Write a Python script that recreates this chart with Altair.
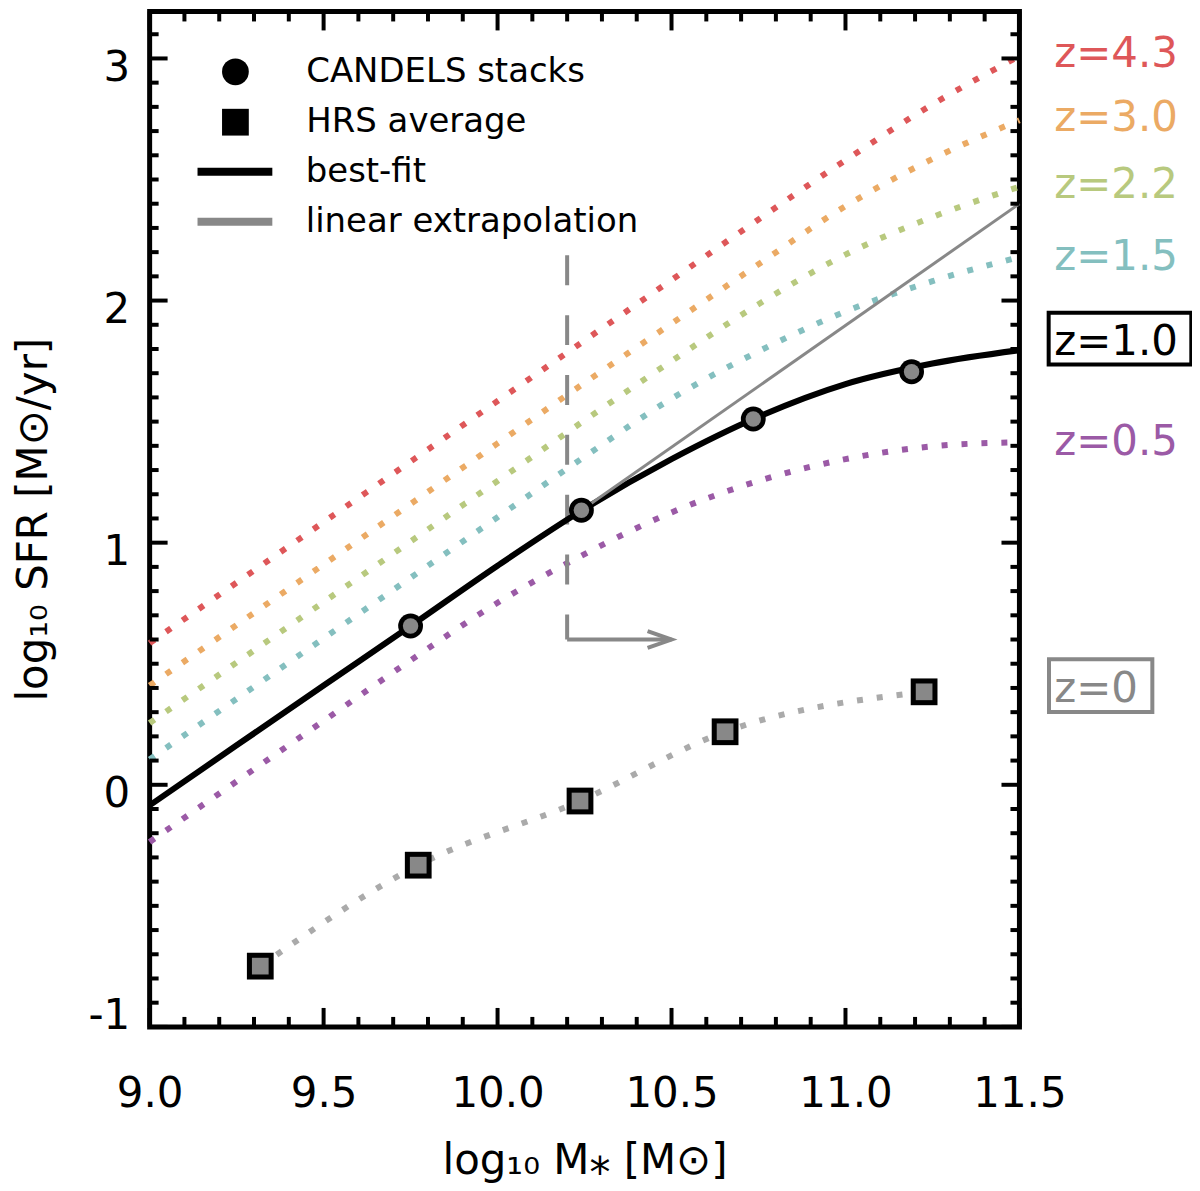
import altair as alt
import pandas as pd

MASS = [9.0, 9.25, 9.5, 9.75, 10.0, 10.25, 10.5, 10.75, 11.0, 11.25, 11.5]

# log10 SFR of the main sequence at each redshift (dotted curves)
SFR_Z43 = [0.585, 0.835, 1.085, 1.335, 1.585, 1.835, 2.085, 2.335, 2.58, 2.81, 3.01]
SFR_Z30 = [0.41, 0.66, 0.91, 1.16, 1.41, 1.66, 1.905, 2.15, 2.39, 2.585, 2.745]
SFR_Z22 = [0.255, 0.505, 0.755, 1.005, 1.255, 1.505, 1.75, 1.985, 2.19, 2.345, 2.47]
SFR_Z15 = [0.105, 0.355, 0.605, 0.855, 1.105, 1.355, 1.595, 1.79, 1.955, 2.08, 2.18]
SFR_Z05 = [-0.236, 0.014, 0.264, 0.514, 0.752, 0.953, 1.125, 1.255, 1.345, 1.398, 1.415]

# best fit at z=1
SFR_Z10 = [-0.085, 0.163, 0.41, 0.656, 0.905, 1.14, 1.345, 1.52, 1.655, 1.74, 1.795]

# CANDELS stacks (z=1) and HRS average (z=0)
CANDELS_MASS = [9.75, 10.241, 10.735, 11.19]
CANDELS_SFR = [0.656, 1.134, 1.511, 1.706]
HRS_MASS = [9.318, 9.772, 10.237, 10.654, 11.226]
HRS_SFR = [-0.749, -0.332, -0.067, 0.219, 0.384]

# linear extrapolation of the low-mass slope
EXTRAP_MASS = [10.241, 11.5]
EXTRAP_SFR = [1.134, 2.40]

# mass cut marker
CUT_MASS = 10.2
CUT_TOP = 2.187
CUT_BOTTOM = 0.60
ARROW_END = 10.5

# redshift labels on the right
Z_LABELS = ["z=4.3", "z=3.0", "z=2.2", "z=1.5", "z=1.0", "z=0.5", "z=0"]
Z_LABEL_SFR = [2.965, 2.699, 2.425, 2.128, 1.776, 1.364, 0.343]
LABEL_MASS = 11.6

X_MAJOR = [9.0, 9.5, 10.0, 10.5, 11.0, 11.5]
X_MINOR = [round(9.0 + 0.1 * i, 1) for i in range(1, 25) if i % 5]
Y_MAJOR = [-1, 0, 1, 2, 3]
Y_MINOR = [round(-1.0 + 0.1 * i, 1) for i in range(1, 42) if i % 10]

LINE_COLORS = {
    "z=4.3": "#de5759",
    "z=3.0": "#ebaa64",
    "z=2.2": "#b8c97e",
    "z=1.5": "#84bfbf",
    "z=0.5": "#9b5aa6",
    "z=0": "#aaaaaa",
}
TEXT_COLORS = {
    "z=4.3": "#de5759",
    "z=3.0": "#ebaa64",
    "z=2.2": "#b8c97e",
    "z=1.5": "#84bfbf",
    "z=1.0": "#000000",
    "z=0.5": "#9b5aa6",
    "z=0": "#888888",
}
GREY = "#888888"
FONT = "DejaVu Sans"

W, H = 872, 1018

X_SCALE = alt.Scale(domain=[9.0, 11.5], nice=False, zero=False)
Y_SCALE = alt.Scale(domain=[-1.0, 3.194], nice=False, zero=False)

X_AXIS = alt.Axis(
    values=X_MAJOR, format=".1f", ticks=False, tickSize=0, domain=False, grid=False,
    labelFontSize=42, labelPadding=47, labelBaseline="top", labelFlush=False,
    labelOverlap=False, labelColor="black",
    title="log₁₀ M⁎ [M⊙]", titleFontSize=42, titleFontWeight="normal",
    titleX=W / 2, titleY=147, titleBaseline="alphabetic", titleAlign="center",
    titleColor="black",
)
Y_AXIS = alt.Axis(
    values=Y_MAJOR, ticks=False, tickSize=0, domain=False, grid=False,
    labelExpr="datum.value < 0 ? '-' + format(abs(datum.value), 'd') : format(datum.value, 'd')",
    labelFontSize=42, labelPadding=20, labelBaseline="middle", labelFlush=False,
    labelOverlap=False, labelColor="black",
    labelOffset={"condition": {"test": "datum.value === -1", "value": -11}, "value": 9},
    title="log₁₀ SFR [M⊙/yr]", titleFontSize=42, titleFontWeight="normal",
    titleX=-103, titleY=H / 2, titleAngle=270, titleBaseline="alphabetic",
    titleAlign="center", titleColor="black",
)


def xq(field="m"):
    return alt.X(f"{field}:Q", scale=X_SCALE, axis=X_AXIS)


def yq(field="sfr"):
    return alt.Y(f"{field}:Q", scale=Y_SCALE, axis=Y_AXIS)


# ---- dotted main-sequence curves ----
rows = []
for lab, vals in [("z=4.3", SFR_Z43), ("z=3.0", SFR_Z30), ("z=2.2", SFR_Z22),
                  ("z=1.5", SFR_Z15), ("z=0.5", SFR_Z05)]:
    rows += [{"m": m, "sfr": s, "z": lab} for m, s in zip(MASS, vals)]
rows += [{"m": m, "sfr": s, "z": "z=0"} for m, s in zip(HRS_MASS, HRS_SFR)]
curves = pd.DataFrame(rows)

dotted = alt.Chart(curves).mark_line(
    strokeWidth=6, strokeDash=[6, 14], strokeCap="butt", interpolate="monotone"
).encode(
    x=xq(), y=yq(),
    stroke=alt.Stroke("z:N", scale=alt.Scale(domain=list(LINE_COLORS), range=list(LINE_COLORS.values())),
                      legend=None),
)

# ---- mass cut with arrow ----
cut_df = pd.DataFrame({"m": [CUT_MASS], "top": [CUT_TOP], "bottom": [CUT_BOTTOM]})
cut = alt.Chart(cut_df).mark_rule(strokeDash=[30, 30], strokeWidth=4, color=GREY).encode(
    x=xq(), y=yq("top"), y2=alt.Y2("bottom:Q")
)
shaft_df = pd.DataFrame({"m": [CUT_MASS], "m2": [ARROW_END], "sfr": [CUT_BOTTOM]})
shaft = alt.Chart(shaft_df).mark_rule(strokeWidth=4, color=GREY).encode(
    x=xq(), x2=alt.X2("m2:Q"), y=yq()
)
head_df = pd.DataFrame({"m": [ARROW_END], "sfr": [CUT_BOTTOM]})
head = alt.Chart(head_df).mark_point(
    shape="M-1,-0.35L0,0L-1,0.35", size=2304, filled=False, strokeWidth=4,
    color=GREY, opacity=1,
).encode(x=xq(), y=yq())

# ---- best fit and linear extrapolation ----
fit_rows = [{"m": m, "sfr": s, "fit": "best-fit", "w": "thick"} for m, s in zip(MASS, SFR_Z10)]
fit_rows += [{"m": m, "sfr": s, "fit": "linear extrapolation", "w": "thin"}
             for m, s in zip(EXTRAP_MASS, EXTRAP_SFR)]
fits = pd.DataFrame(fit_rows)
fit_kinds = ["best-fit", "linear extrapolation"]

fit_lines = alt.Chart(fits).mark_line(interpolate="monotone", strokeCap="butt").encode(
    x=xq(), y=yq(),
    color=alt.Color(
        "fit:N", scale=alt.Scale(domain=fit_kinds, range=["black", GREY]),
        legend=alt.Legend(
            title=None, orient="none", legendX=68.5, legendY=143.7, padding=0,
            symbolType="M-3,0H3", symbolSize=625, symbolStrokeWidth=8,
            labelFontSize=34, labelFont=FONT, labelOffset=54, rowPadding=16,
            labelLimit=600, labelColor="black",
        ),
    ),
    strokeWidth=alt.StrokeWidth("w:N", scale=alt.Scale(domain=["thick", "thin"], range=[6, 3]), legend=None),
)

# ---- data points ----
mk_rows = [{"m": m, "sfr": s, "sample": "CANDELS stacks", "mk": "c"} for m, s in zip(CANDELS_MASS, CANDELS_SFR)]
mk_rows += [{"m": m, "sfr": s, "sample": "HRS average", "mk": "s"} for m, s in zip(HRS_MASS, HRS_SFR)]
markers = pd.DataFrame(mk_rows)
mk_kinds = ["CANDELS stacks", "HRS average"]

outer = alt.Chart(markers).mark_point(filled=True, color="black", opacity=1).encode(
    x=xq(), y=yq(),
    shape=alt.Shape(
        "sample:N", scale=alt.Scale(domain=mk_kinds, range=["circle", "square"]),
        legend=alt.Legend(
            title=None, orient="none", legendX=69, legendY=43.5, padding=0,
            symbolSize=720, symbolStrokeWidth=0, symbolFillColor="black",
            labelFontSize=34, labelFont=FONT, labelOffset=54, rowPadding=16.5,
            labelLimit=600, labelColor="black",
        ),
    ),
    size=alt.Size("mk:N", scale=alt.Scale(domain=["c", "s"], range=[620, 720]), legend=None),
)
inner_c = alt.Chart(markers).transform_filter(alt.datum.mk == "c").mark_circle(
    size=240, color=GREY, opacity=1
).encode(x=xq(), y=yq())
inner_s = alt.Chart(markers).transform_filter(alt.datum.mk == "s").mark_square(
    size=280, color=GREY, opacity=1
).encode(x=xq(), y=yq())

# ---- redshift labels ----
labels_df = pd.DataFrame({"label": Z_LABELS, "sfr": Z_LABEL_SFR, "m": [LABEL_MASS] * len(Z_LABELS)})
labels = alt.Chart(labels_df).mark_text(
    align="left", baseline="alphabetic", fontSize=42, font=FONT
).encode(
    x=xq(), y=yq(), text="label:N",
    fill=alt.Fill("label:N", scale=alt.Scale(domain=list(TEXT_COLORS), range=list(TEXT_COLORS.values())),
                  legend=None),
)

box_df = pd.DataFrame({
    "label": ["z=1.0", "z=0"],
    "m": [11.584, 11.585], "m2": [11.994, 11.882],
    "sfr": [1.950, 0.519], "sfr2": [1.736, 0.301],
})
box_one = alt.Chart(box_df).transform_filter(alt.datum.label == "z=1.0").mark_rect(
    fillOpacity=0, stroke="black", strokeWidth=4
).encode(x=xq(), x2=alt.X2("m2:Q"), y=yq(), y2=alt.Y2("sfr2:Q"))
box_zero = alt.Chart(box_df).transform_filter(alt.datum.label == "z=0").mark_rect(
    fillOpacity=0, stroke=GREY, strokeWidth=4
).encode(x=xq(), x2=alt.X2("m2:Q"), y=yq(), y2=alt.Y2("sfr2:Q"))


# ---- inward ticks on all four sides ----
def x_ticks(vals, length, top):
    y0, y1 = (0, length) if top else (H, H - length)
    return alt.Chart(pd.DataFrame({"m": vals})).mark_rule(color="black", strokeWidth=4).encode(
        x=xq(), y=alt.value(y0), y2=alt.value(y1)
    )


def y_ticks(vals, length, right):
    x0, x1 = (W, W - length) if right else (0, length)
    return alt.Chart(pd.DataFrame({"sfr": vals})).mark_rule(color="black", strokeWidth=4).encode(
        y=yq(), x=alt.value(x0), x2=alt.value(x1)
    )


ticks = [
    x_ticks(X_MAJOR, 19, False), x_ticks(X_MINOR, 10, False),
    x_ticks(X_MAJOR, 19, True), x_ticks(X_MINOR, 10, True),
    y_ticks(Y_MAJOR, 18, False), y_ticks(Y_MINOR, 9, False),
    y_ticks(Y_MAJOR, 18, True), y_ticks(Y_MINOR, 9, True),
]

chart = alt.layer(
    dotted, cut, shaft, head, fit_lines, outer, inner_c, inner_s,
    box_one, box_zero, labels, *ticks
).properties(
    width=W, height=H,
    padding={"left": 142, "top": 2, "right": 173, "bottom": 155},
    autosize=alt.AutoSizeParams(type="none"),
).configure(
    font=FONT
).configure_view(
    stroke="black", strokeWidth=5
)

chart.save("out.html", embed_options={"renderer": "svg", "actions": False})
